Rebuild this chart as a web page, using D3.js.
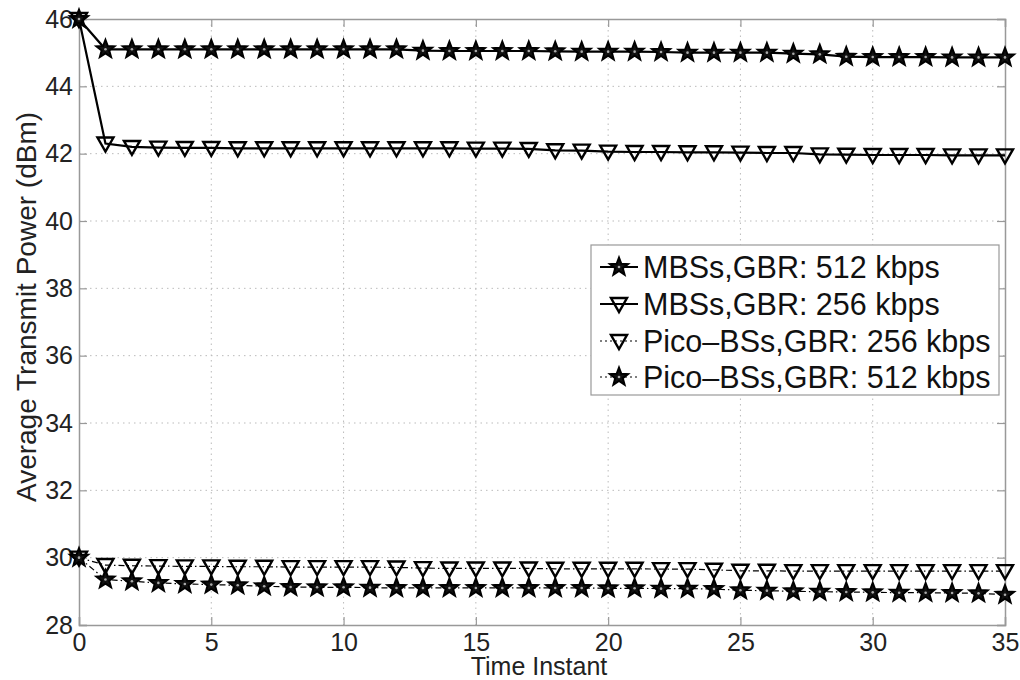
<!DOCTYPE html>
<html><head><meta charset="utf-8">
<script src="https://cdn.jsdelivr.net/npm/d3@7"></script>
<style>body{margin:0;background:#fff}</style>
</head><body><svg id="c" width="1020" height="680"></svg>
<script>
const timeInstants = d3.range(0, 36);
const mbs512 = [46.0,45.10,45.10,45.10,45.10,45.10,45.10,45.10,45.10,45.10,45.10,45.10,45.10,45.06,45.05,45.05,45.05,45.05,45.04,45.03,45.03,45.03,45.02,45.0,45.0,45.0,45.0,44.97,44.95,44.88,44.87,44.87,44.87,44.86,44.86,44.86];
const mbs256 = [46.0,42.30,42.20,42.18,42.17,42.17,42.16,42.16,42.16,42.16,42.16,42.16,42.16,42.16,42.16,42.15,42.15,42.14,42.10,42.09,42.06,42.05,42.05,42.04,42.04,42.03,42.02,42.02,41.98,41.97,41.96,41.96,41.96,41.95,41.95,41.95];
const pico256 = [30.0,29.78,29.76,29.75,29.74,29.74,29.73,29.73,29.72,29.72,29.72,29.72,29.71,29.69,29.68,29.68,29.68,29.68,29.67,29.67,29.67,29.67,29.66,29.66,29.64,29.61,29.61,29.60,29.60,29.60,29.60,29.60,29.60,29.60,29.60,29.60];
const pico512 = [30.0,29.35,29.30,29.25,29.22,29.20,29.18,29.15,29.13,29.12,29.12,29.11,29.10,29.10,29.10,29.10,29.10,29.10,29.10,29.10,29.09,29.09,29.08,29.08,29.07,29.03,29.02,29.0,28.99,28.98,28.97,28.96,28.96,28.95,28.94,28.90];
const seriesNames = ["MBSs,GBR: 512 kbps","MBSs,GBR: 256 kbps","Pico\u2013BSs,GBR: 256 kbps","Pico\u2013BSs,GBR: 512 kbps"];
const xTicks = [0,5,10,15,20,25,30,35];
const yTicks = [28,30,32,34,36,38,40,42,44,46];
const xLabel = "Time Instant";
const yLabel = "Average Transmit Power (dBm)";

const series = [
  {name: seriesNames[0], values: mbs512, marker: "star", dash: null, lw: 2.2},
  {name: seriesNames[1], values: mbs256, marker: "tri", dash: null, lw: 2.2},
  {name: seriesNames[2], values: pico256, marker: "tri", dash: "6,3,1.5,3", lw: 1.2},
  {name: seriesNames[3], values: pico512, marker: "star", dash: "6,3,1.5,3", lw: 1.2}
];

const svg = d3.select("#c");
const L = 79, R = 1005, T = 19, B = 625;
const x = d3.scaleLinear().domain([0,35]).range([L,R]);
const y = d3.scaleLinear().domain([28,46]).range([B,T]);
const font = "'Liberation Sans', Arial, sans-serif";

// grid
const g = svg.append("g");
g.selectAll(".gx").data(xTicks.slice(1,-1)).join("line")
  .attr("x1", d=>x(d)).attr("x2", d=>x(d)).attr("y1", T).attr("y2", B)
  .attr("stroke", "#bbb").attr("stroke-width", 1).attr("stroke-dasharray", "1.5,4");
g.selectAll(".gy").data(yTicks.slice(1,-1)).join("line")
  .attr("y1", d=>y(d)).attr("y2", d=>y(d)).attr("x1", L).attr("x2", R)
  .attr("stroke", "#bbb").attr("stroke-width", 1).attr("stroke-dasharray", "1.5,4");

// axes
const xAxis = d3.axisBottom(x).tickValues(xTicks).tickSize(-8).tickPadding(10);
const yAxis = d3.axisLeft(y).tickValues(yTicks).tickSize(-8).tickPadding(6);
const xa = svg.append("g").attr("transform", `translate(0,${B})`).call(xAxis);
const ya = svg.append("g").attr("transform", `translate(${L},0)`).call(yAxis);
const xaTop = svg.append("g").attr("transform", `translate(0,${T})`).call(d3.axisTop(x).tickValues(xTicks).tickSize(-8).tickFormat(""));
const yaR = svg.append("g").attr("transform", `translate(${R},0)`).call(d3.axisRight(y).tickValues(yTicks).tickSize(-8).tickFormat(""));
[xa, ya, xaTop, yaR].forEach(a => {
  a.selectAll("path").attr("stroke", "#999").attr("stroke-width", 1.5);
  a.selectAll("line").attr("stroke", "#999").attr("stroke-width", 1.2);
  a.selectAll("text").attr("font-family", font).attr("font-size", 25).attr("fill", "#222");
});
xa.selectAll("text").attr("dy", "0.62em");

svg.append("text").attr("x", (L+R)/2 - 3).attr("y", 675).attr("text-anchor", "middle")
  .attr("font-family", font).attr("font-size", 25).attr("fill", "#222").text(xLabel);
svg.append("text").attr("transform", `translate(36,307) rotate(-90)`).attr("text-anchor", "middle")
  .attr("font-family", font).attr("font-size", 28).attr("fill", "#222").text(yLabel);

// markers
function starPath(ro, ri) {
  let p = [];
  for (let i = 0; i < 10; i++) {
    const r = i % 2 ? ri : ro;
    const a = -Math.PI/2 + i * Math.PI/5;
    p.push([r*Math.cos(a), r*Math.sin(a)]);
  }
  return "M" + p.map(q=>q[0].toFixed(2)+","+q[1].toFixed(2)).join("L") + "Z";
}
const starD = starPath(9.5, 4);
const triD = "M-8,-6L8,-6L0,8Z";

function drawMarker(sel, type) {
  if (type === "star") {
    sel.append("path").attr("d", starD).attr("fill", "#111").attr("stroke", "#000").attr("stroke-width", 2)
      .attr("stroke-linejoin", "miter");
    sel.append("circle").attr("r", 1.3).attr("fill", "#aaa");
  } else {
    sel.append("path").attr("d", triD).attr("fill", "none").attr("stroke", "#000").attr("stroke-width", 2.4)
      .attr("stroke-linejoin", "miter");
  }
}

const line = d3.line().x((d,i)=>x(timeInstants[i])).y(d=>y(d));
const clipG = svg.append("g");
series.forEach(s => {
  clipG.append("path").attr("d", line(s.values)).attr("fill", "none").attr("stroke", "#000")
    .attr("stroke-width", s.lw).attr("stroke-dasharray", s.dash);
});
series.forEach(s => {
  s.values.forEach((v,i) => {
    const m = clipG.append("g").attr("transform", `translate(${x(timeInstants[i])},${y(v)})`);
    drawMarker(m, s.marker);
  });
});

// legend
const lg = svg.append("g");
lg.append("rect").attr("x", 591).attr("y", 245).attr("width", 408).attr("height", 150)
  .attr("fill", "#fff").attr("stroke", "#999").attr("stroke-width", 1.2);
const ly = [267, 304, 341, 377];
series.forEach((s,i) => {
  lg.append("line").attr("x1", 600).attr("x2", 638).attr("y1", ly[i]).attr("y2", ly[i])
    .attr("stroke", "#000").attr("stroke-width", s.lw).attr("stroke-dasharray", s.dash ? "2,3" : null);
  const m = lg.append("g").attr("transform", `translate(619,${ly[i]})`);
  drawMarker(m, s.marker);
  lg.append("text").attr("x", 643).attr("y", ly[i]).attr("dy", "0.36em")
    .attr("font-family", font).attr("font-size", 30.5).attr("fill", "#111").text(s.name);
});
</script></body></html>
